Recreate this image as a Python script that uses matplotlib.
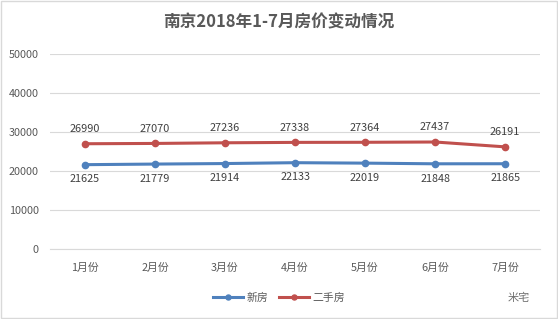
import matplotlib
matplotlib.use('Agg')
import matplotlib.pyplot as plt
from matplotlib.patches import Rectangle

plt.rcParams['font.family'] = ['Noto Sans CJK SC', 'DejaVu Sans']

months = ['1月份', '2月份', '3月份', '4月份', '5月份', '6月份', '7月份']
new_house = [21625, 21779, 21914, 22133, 22019, 21848, 21865]
second_house = [26990, 27070, 27236, 27338, 27364, 27437, 26191]

blue = '#4F81BD'
red = '#C0504D'
txt = '#595959'

fig = plt.figure(figsize=(5.58, 3.19), dpi=100)
ax = fig.add_axes([0.0896, 0.2194, 0.8784, 0.6113])

x = range(len(months))
ax.plot(x, new_house, color=blue, lw=2.2, marker='o', ms=4.5, label='新房', zorder=3)
ax.plot(x, second_house, color=red, lw=2.2, marker='o', ms=4.5, label='二手房', zorder=3)

for i in x:
    ax.annotate(str(second_house[i]), (i, second_house[i]), xytext=(0, 7),
                textcoords='offset points', ha='center', va='bottom', fontsize=7.8, color='#404040')
    ax.annotate(str(new_house[i]), (i, new_house[i]), xytext=(0, -7),
                textcoords='offset points', ha='center', va='top', fontsize=7.8, color='#404040')

ax.set_xlim(-0.5, len(months) - 0.5)
ax.set_ylim(0, 50000)
ax.set_yticks(range(0, 50001, 10000))
ax.set_xticks(list(x))
ax.set_xticklabels(months)
ax.tick_params(axis='both', length=0, labelsize=7.8, labelcolor=txt)
ax.tick_params(axis='x', pad=10)
ax.tick_params(axis='y', pad=8)
ax.grid(axis='y', color='#D9D9D9', lw=0.8)
ax.set_axisbelow(True)
for s in ['top', 'right', 'left']:
    ax.spines[s].set_visible(False)
ax.spines['bottom'].set_color('#D9D9D9')

fig.text(0.5, 0.93, '南京2018年1-7月房价变动情况', ha='center', va='center',
         fontsize=12, fontweight='bold', color=txt)

fig.legend(loc='center', bbox_to_anchor=(0.5, 0.067), ncol=2, frameon=False,
           fontsize=7.8, handlelength=2.8, columnspacing=1.0, handletextpad=0.3,
           labelcolor=txt, markerscale=0.8)

fig.text(0.93, 0.067, '米宅', ha='center', va='center', fontsize=8, color='#707070')

fig.patches.append(Rectangle((0.002, 0.003), 0.996, 0.994, transform=fig.transFigure,
                             fill=False, edgecolor='#D9D9D9', lw=1))

fig.savefig('out.png', dpi=100)
